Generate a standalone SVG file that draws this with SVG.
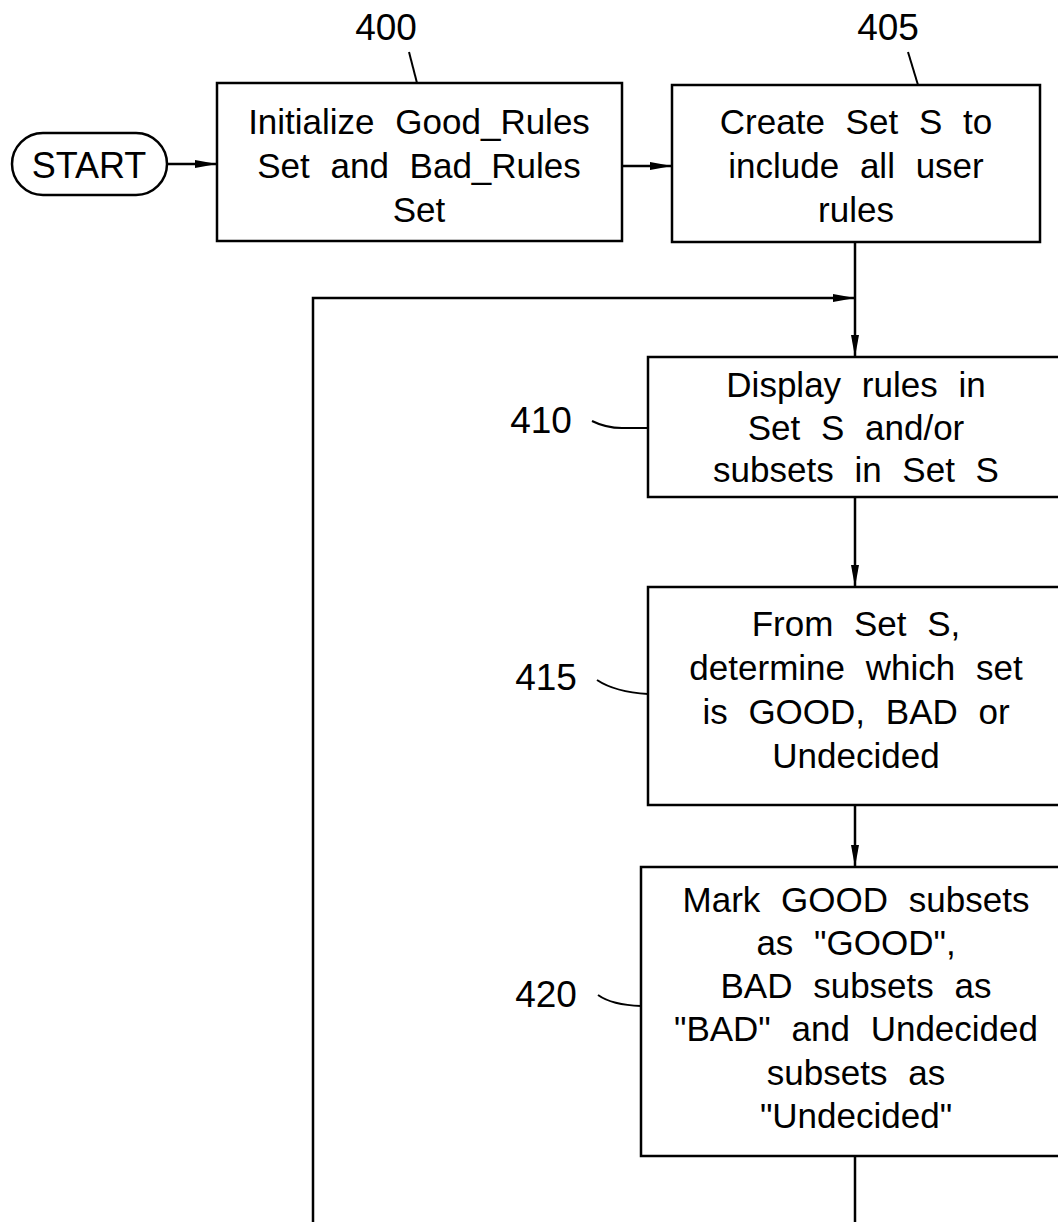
<svg xmlns="http://www.w3.org/2000/svg" width="1058" height="1222" viewBox="0 0 1058 1222">
<style>
.box{fill:#fff;stroke:#000;stroke-width:2.5}
.t{font-family:"Liberation Sans",Arial,sans-serif;font-size:35px;fill:#000;text-anchor:middle;word-spacing:11px}
.lbl{font-family:"Liberation Sans",Arial,sans-serif;font-size:37px;fill:#000;text-anchor:middle}
.ln{fill:none;stroke:#000;stroke-width:2.5}
.ld{fill:none;stroke:#000;stroke-width:2}
</style>
<defs>
<marker id="ah" markerWidth="22" markerHeight="10" refX="22" refY="5" orient="auto" markerUnits="userSpaceOnUse">
<path d="M0,1 L22,5 L0,9 Z" fill="#000"/>
</marker>
</defs>
<g id="connectors">
<line class="ln" x1="167" y1="164" x2="217" y2="164" marker-end="url(#ah)"/>
<line class="ln" x1="622" y1="166" x2="672" y2="166" marker-end="url(#ah)"/>
<line class="ln" x1="855" y1="242" x2="855" y2="357" marker-end="url(#ah)"/>
<polyline class="ln" points="313,1222 313,298 855,298" marker-end="url(#ah)"/>
<line class="ln" x1="855" y1="497" x2="855" y2="587" marker-end="url(#ah)"/>
<line class="ln" x1="855" y1="805" x2="855" y2="867" marker-end="url(#ah)"/>
<line class="ln" x1="855" y1="1156" x2="855" y2="1222"/>
</g>
<g id="start">
<rect class="box" x="12" y="133" width="155" height="62" rx="31" ry="31"/>
<text class="lbl" x="89" y="178" style="font-size:36px">START</text>
</g>
<g id="n400">
<rect class="box" x="217" y="83" width="405" height="158"/>
<text class="t" x="419" y="134">Initialize Good_Rules</text>
<text class="t" x="419" y="178">Set and Bad_Rules</text>
<text class="t" x="419" y="222">Set</text>
<text class="lbl" x="386" y="40">400</text>
<line class="ld" x1="409" y1="52" x2="417" y2="83"/>
</g>
<g id="n405">
<rect class="box" x="672" y="85" width="368" height="157"/>
<text class="t" x="856" y="134">Create Set S to</text>
<text class="t" x="856" y="178">include all user</text>
<text class="t" x="856" y="222">rules</text>
<text class="lbl" x="888" y="40">405</text>
<line class="ld" x1="908" y1="52" x2="918" y2="85"/>
</g>
<g id="n410">
<rect class="box" x="648" y="357" width="420" height="140"/>
<text class="t" x="856" y="397">Display rules in</text>
<text class="t" x="856" y="440">Set S and/or</text>
<text class="t" x="856" y="482">subsets in Set S</text>
<text class="lbl" x="541" y="433">410</text>
<path class="ld" d="M592,421 Q606,428 622,428 L648,428"/>
</g>
<g id="n415">
<rect class="box" x="648" y="587" width="420" height="218"/>
<text class="t" x="856" y="636">From Set S,</text>
<text class="t" x="856" y="680">determine which set</text>
<text class="t" x="856" y="724">is GOOD, BAD or</text>
<text class="t" x="856" y="768">Undecided</text>
<text class="lbl" x="546" y="690">415</text>
<path class="ld" d="M597,680 Q615,692 648,694"/>
</g>
<g id="n420">
<rect class="box" x="641" y="867" width="427" height="289"/>
<text class="t" x="856" y="912">Mark GOOD subsets</text>
<text class="t" x="856" y="955">as "GOOD",</text>
<text class="t" x="856" y="998">BAD subsets as</text>
<text class="t" x="856" y="1041">"BAD" and Undecided</text>
<text class="t" x="856" y="1085">subsets as</text>
<text class="t" x="856" y="1128">"Undecided"</text>
<text class="lbl" x="546" y="1007">420</text>
<path class="ld" d="M598,995 Q612,1005 641,1006"/>
</g>
</svg>
